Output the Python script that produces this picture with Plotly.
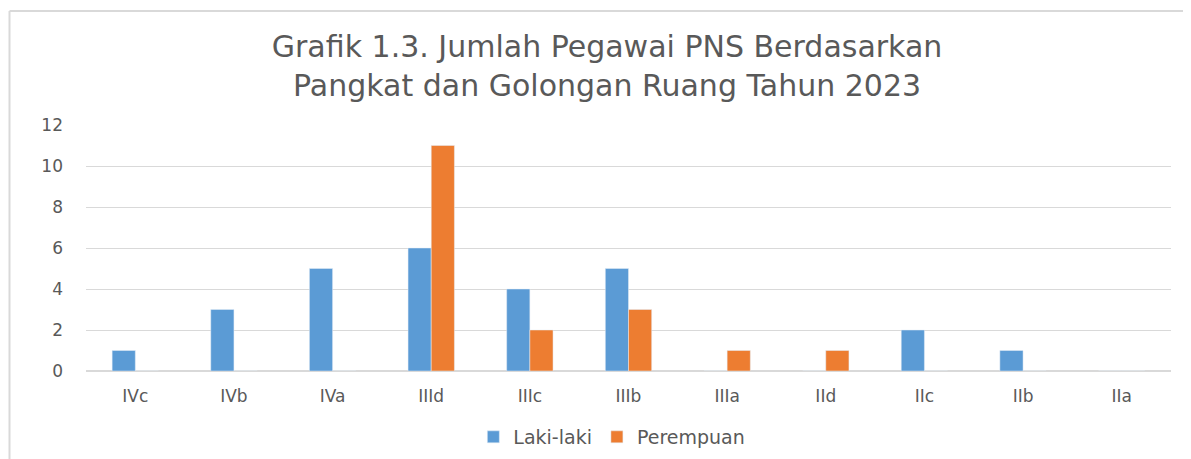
import plotly.graph_objects as go

categories = ["IVc", "IVb", "IVa", "IIId", "IIIc", "IIIb", "IIIa", "IId", "IIc", "IIb", "IIa"]
laki_laki = [1, 3, 5, 6, 4, 5, 0, 0, 2, 1, 0]
perempuan = [0, 0, 0, 11, 2, 3, 1, 1, 0, 0, 0]
y_ticks = [0, 2, 4, 6, 8, 10, 12]

FONT = "DejaVu Sans"
GREY = "#595959"

fig = go.Figure()
fig.add_trace(go.Bar(x=categories, y=laki_laki, name="Laki-laki", marker_color="#5B9BD5"))
fig.add_trace(go.Bar(x=categories, y=perempuan, name="Perempuan", marker_color="#ED7D31"))

fig.update_layout(
    width=1191, height=459,
    paper_bgcolor="white", plot_bgcolor="white",
    margin=dict(l=78, r=28, t=117, b=96, autoexpand=False),
    barmode="group", bargap=0.53, bargroupgap=0,
    title=dict(
        text="Grafik 1.3. Jumlah Pegawai PNS Berdasarkan<br>Pangkat dan Golongan Ruang Tahun 2023",
        x=0.503, xref="container", xanchor="center", y=0.893, yref="container", yanchor="middle",
        font=dict(family=FONT, size=30, color=GREY),
    ),
    font=dict(family=FONT, size=17, color=GREY),
    legend=dict(orientation="h", x=0.507, xref="container", xanchor="center",
                yref="container", y=0.0654, yanchor="middle",
                font=dict(size=19, color=GREY), traceorder="normal", itemwidth=30),
    xaxis=dict(showgrid=False, showline=False, ticks="", tickfont=dict(size=17, color=GREY),
               ticklabelstandoff=13),
    yaxis=dict(range=[0, 12], tickvals=y_ticks, showgrid=True, gridcolor="#D9D9D9", gridwidth=1,
               zeroline=True, zerolinecolor="#D9D9D9", showline=False, ticks="",
               tickfont=dict(size=17, color=GREY), ticklabelstandoff=22),
    shapes=[
        dict(type="line", xref="paper", yref="paper", x0=-0.0705, x1=1.05, y0=1.463, y1=1.463,
             line=dict(color="#D9D9D9", width=2)),
        dict(type="line", xref="paper", yref="paper", x0=-0.0705, x1=-0.0705, y0=1.463, y1=-0.4,
             line=dict(color="#D9D9D9", width=2)),
    ],
)

fig.write_html("out.html")
